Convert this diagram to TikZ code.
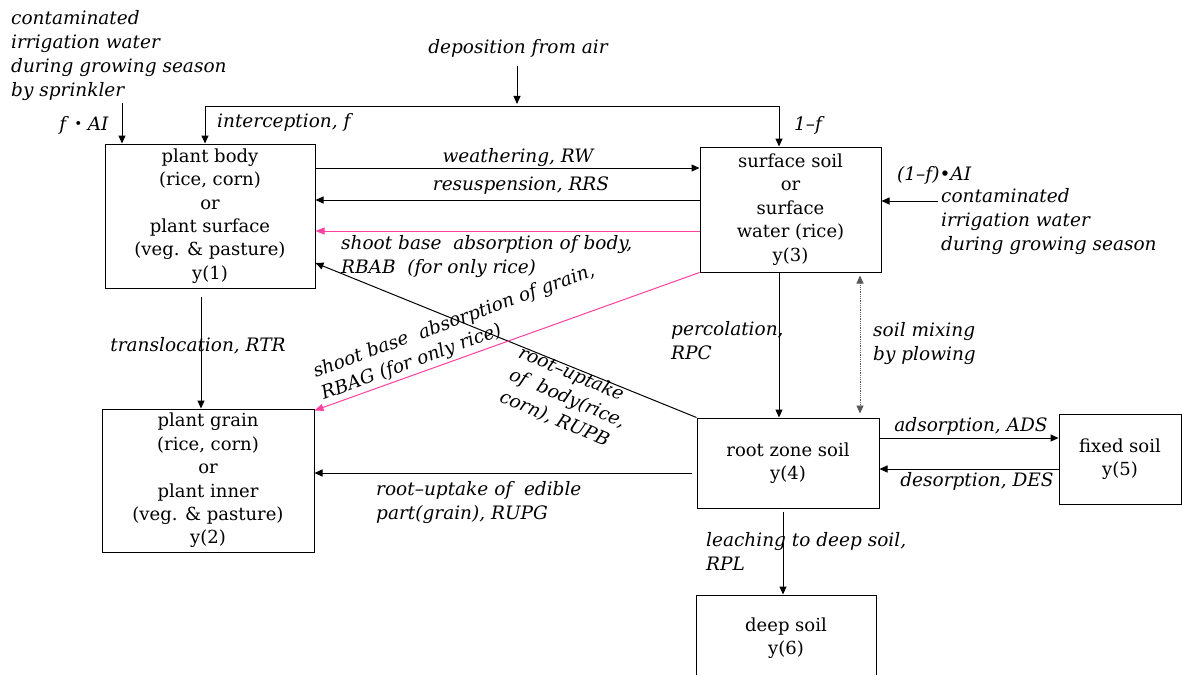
\documentclass[tikz,border=0pt]{standalone}
\usepackage{fontspec}
\setmainfont{DejaVu Serif}
\newfontfamily\cjkfont{Noto Sans CJK JP}
\usetikzlibrary{arrows.meta}
\definecolor{hotpink}{RGB}{255,64,160}
\tikzset{
  box/.style={draw, line width=1pt, inner sep=0pt, align=center,
    font=\fontsize{18}{23.4}\selectfont},
  lbl/.style={inner sep=0pt, align=left, font=\fontsize{18.5}{24}\selectfont\itshape},
  arr/.style={line width=1pt, -{Triangle[length=8pt,width=7pt]}},
  dbl/.style={line width=1pt, {Triangle[length=8pt,width=7pt]}-{Triangle[length=8pt,width=7pt]}},
  parr/.style={arr, draw=hotpink, line width=1pt, -{Triangle[length=9pt,width=7pt]}},
}
\begin{document}
\begin{tikzpicture}[x=1pt,y=-1pt]
\clip (0,0) rectangle (1182,674);
\fill[white] (0,0) rectangle (1182,674);

% boxes
\node[box, minimum width=210pt, minimum height=144pt] (b1) at (210,216)
  {plant body\\(rice, corn)\\or\\plant surface\\(veg. \& pasture)\\y(1)};
\node[box, minimum width=212pt, minimum height=143pt] (b2) at (208,480.5)
  {plant grain\\(rice, corn)\\or\\plant inner\\(veg. \& pasture)\\y(2)};
\node[box, minimum width=181pt, minimum height=125pt] (b3) at (790.5,209.5)
  {surface soil\\or\\surface\\water (rice)\\y(3)};
\node[box, minimum width=182pt, minimum height=90pt] (b4) at (788,463)
  {root zone soil\\y(4)};
\node[box, minimum width=122pt, minimum height=90pt] (b5) at (1120,459)
  {fixed soil\\y(5)};
\node[box, minimum width=180pt, minimum height=86pt] (b6) at (786,638)
  {deep soil\\y(6)};

% free labels
\node[lbl, anchor=north west] (irrA) at (11,10)
  {contaminated\\irrigation water\\during growing season\\by sprinkler};
\node[lbl] (fai) at (84,125) {f\,{\cjkfont ・}AI};
\node[lbl] (dep) at (518,48) {deposition from air};
\node[lbl, anchor=west] (icp) at (217,122) {interception, f};
\node[lbl, anchor=west] (omf) at (794,125) {1–f};
\node[lbl] (rw) at (518,158) {weathering, RW};
\node[lbl] (rrs) at (521,186) {resuspension, RRS};
\node[lbl, anchor=west] (rbab) at (341,257) {shoot base\ \ absorption of body,\\RBAB\ \ (for only rice)};
\node[lbl, anchor=west, rotate=20] (rbag) at (318,384) {shoot base\ \ absorption of grain,\\RBAG (for only rice)};
\node[lbl, anchor=west, rotate=-23] (rupb) at (510,374) {root–uptake\\of\ \ body(rice,\\corn), RUPB};
\node[lbl] (rtr) at (198,346) {translocation, RTR};
\node[lbl, anchor=west] (rpc) at (671,341) {percolation,\\RPC};
\node[lbl, anchor=west] (mix) at (873,344) {soil mixing\\by plowing};
\node[lbl, anchor=west] (fai2) at (897,175) {(1–f)•AI};
\node[lbl, anchor=west] (irrB) at (941,222) {contaminated\\irrigation water\\during growing season};
\node[lbl] (ads) at (971,426) {adsorption, ADS};
\node[lbl] (des) at (977,481) {desorption, DES};
\node[lbl, anchor=west] (rupg) at (376,503) {root–uptake of\ \ edible\\part(grain), RUPG};
\node[lbl, anchor=west] (rpl) at (706,551) {leaching to deep soil,\\RPL};

% coordinates
\coordinate (tl) at (205,107);
\coordinate (tr) at (779,107);
\coordinate (depS) at (517,66);
\coordinate (depE) at (517,104);
\coordinate (faS) at (122,103);
\coordinate (irrS) at (938,201);

% connectors
\draw[arr] (depS) -- (depE);
\draw[dbl] (tl |- b1.north) -- (tl) -- (tr) -- (tr |- b3.north);
\draw[arr] (faS) -- (faS |- b1.north);
\draw[arr] (b1.east |- 0,168) -- (b3.west |- 0,168);
\draw[arr] (b3.west |- 0,200) -- (b1.east |- 0,200);
\draw[parr] (b3.west |- 0,231) -- (b1.east |- 0,231);
\draw[arr] (b4.north west) -- (b1.east |- 0,263);
\draw[parr] (b3.south west) -- ([yshift=-2pt]b2.north east);
\draw[arr, shorten <=8pt] (201,0 |- b1.south) -- (201,0 |- b2.north);
\draw[arr] (779,0 |- b3.south) -- (779,0 |- b4.north);
\draw[line width=0.8pt, densely dotted, gray!70!black, {Triangle[length=8pt,width=7pt]}-{Triangle[length=8pt,width=7pt]}, shorten <=3pt, shorten >=4pt]
  (860,0 |- b3.south) -- (860,0 |- b4.north);
\draw[arr] (irrS) -- (b3.east |- irrS);
\draw[arr] (b4.east |- 0,438) -- (b5.west |- 0,438);
\draw[arr] (b5.west |- 0,469) -- (b4.east |- 0,469);
\draw[arr, shorten <=5pt] (b4.west |- 0,473) -- (b2.east |- 0,473);
\draw[arr, shorten <=3pt] (783,0 |- b4.south) -- (783,0 |- b6.north);
\end{tikzpicture}
\end{document}
